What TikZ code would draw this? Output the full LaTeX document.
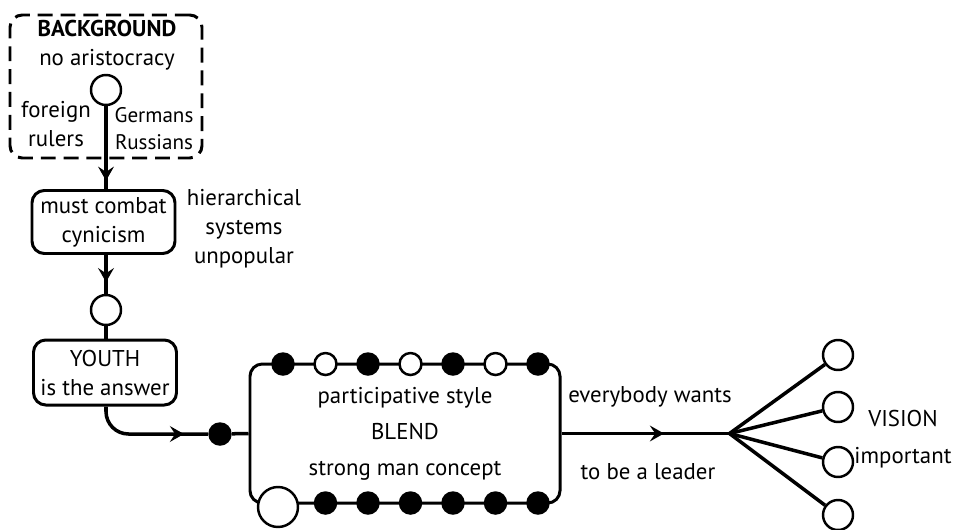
\documentclass[tikz,border=0pt]{standalone}
\usepackage{fontspec}
\setmainfont{PT Sans}
\usepackage{tikz}
\usetikzlibrary{
  arrows.meta,
  positioning, calc,
  decorations.markings
}
\tikzset{
  % Boxes
  procbox/.style={
    rectangle, rounded corners=7pt,
    draw, line width=1.7pt,
    align=center, inner sep=2pt,
    minimum width=2.86cm, minimum height=1.26cm,
    font=\fontsize{13}{16.5}\selectfont
  },
  bgbox/.style={
    rectangle, rounded corners=7pt,
    draw, line width=1.7pt,
    dash pattern=on 8.5pt off 4.5pt,
    minimum width=3.84cm, minimum height=2.86cm
  },
  blendbox/.style={
    procbox, rounded corners=7pt,
    minimum width=6.2cm, minimum height=2.78cm,
    font=\fontsize{13}{20.5}\selectfont
  },
  plaintext/.style={
    align=center, inner sep=1pt,
    font=\fontsize{13}{16.5}\selectfont
  },
  % Dots
  hollowdot/.style={
    circle, draw, fill=white, line width=1.4pt,
    minimum size=0.6cm, inner sep=0pt
  },
  smalldot/.style={hollowdot, minimum size=0.44cm},
  bigdot/.style={hollowdot, minimum size=0.8cm},
  solidot/.style={
    circle, fill=black,
    minimum size=0.47cm, inner sep=0pt
  },
  % Connectors
  flow/.style={line width=2pt},
  midarrow/.style={
    postaction={decorate},
    decoration={markings,
      mark=at position #1 with {\arrow{Stealth[length=8pt, width=9pt, inset=3pt]}}}
  }
}
\begin{document}
\begin{tikzpicture}
  \useasboundingbox (0,0) rectangle (19.2,10.58);

  % --- Background ---
  \node[bgbox] (bg) at (2.12,8.85) {};
  \node[plaintext] (bgtitle) at (2.14,9.68) {\textbf{BACKGROUND}\\no aristocracy};
  \node[hollowdot] (bgc) at (2.12,8.78) {};
  \node[plaintext] (foreign) at (1.12,8.1) {foreign\\rulers};
  \node[plaintext, font=\fontsize{12}{15}\selectfont] (germans) at (3.08,8.01) {Germans\\Russians};

  % --- Cynicism / youth ---
  \node[procbox] (must) at (2.07,6.14) {must combat\\cynicism};
  \node[plaintext] (hier) at (4.88,6.0) {hierarchical\\systems\\unpopular};
  \node[hollowdot] (circ2) at (2.12,4.38) {};
  \node[procbox, minimum height=1.3cm] (youth) at (2.1,3.13) {YOUTH\\is the answer};

  \draw[flow, midarrow=0.9] (bgc) -- (bgc |- must.north);
  \draw[flow, midarrow=0.7] (must.south -| circ2) -- (circ2);
  \draw[flow] (circ2) -- (circ2 |- youth.north);

  % --- Blend ---
  \node[solidot] (entry) at (4.4,1.9) {};
  \node[blendbox] (blend) at (8.1,1.91) {participative style\\BLEND\\strong man concept};

  \draw[flow, rounded corners=0.45cm, midarrow=0.8] (youth.south -| circ2) |- (entry);
  \draw[flow] (entry) -- (blend.west);

  % dots on the box edges
  \foreach \i/\s in {0/solidot, 1/smalldot, 2/solidot, 3/smalldot, 4/solidot, 5/smalldot, 6/solidot}
    \node[\s] (top\i) at ({5.66+0.85*\i},3.3) {};
  \node[bigdot] (bigc) at (5.56,0.44) {};
  \foreach \i in {1,...,6}
    \node[solidot] (bot\i) at ({5.66+0.85*\i},0.52) {};

  % --- Leadership / vision ---
  \coordinate[right=3.36cm of blend.east] (fan);
  \draw[flow, midarrow=0.61] (blend.east) -- (fan);
  \node[plaintext] (wants) at (13.0,2.64) {everybody wants};
  \node[plaintext] (leader) at (12.96,1.14) {to be a leader};

  \node[hollowdot] (v1) at (16.76,3.48) {};
  \node[hollowdot] (v2) at (16.76,2.44) {};
  \node[hollowdot] (v3) at (16.76,1.34) {};
  \node[hollowdot] (v4) at (16.76,0.28) {};
  \foreach \n in {v1,v2,v3,v4}
    \draw[flow] (fan) -- (\n);
  \node[plaintext, font=\fontsize{13}{21}\selectfont] (vision) at (18.06,1.79) {VISION\\important};

\end{tikzpicture}
\end{document}
